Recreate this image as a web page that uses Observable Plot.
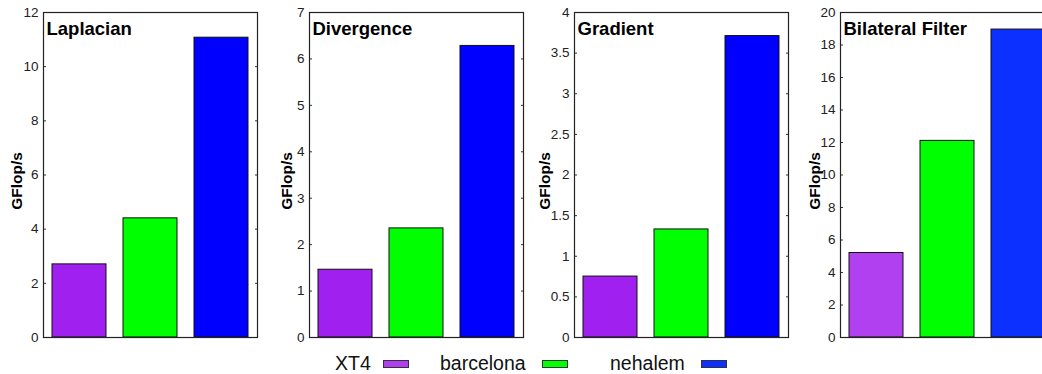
<!DOCTYPE html>
<html>
<head>
<meta charset="utf-8">
<script src="https://cdn.jsdelivr.net/npm/d3@7"></script>
<script src="https://cdn.jsdelivr.net/npm/@observablehq/plot@0.6"></script>
<style>
  html, body { margin: 0; padding: 0; background: #fff; }
  #wrap { position: relative; width: 1042px; height: 374px; overflow: hidden; background: #fff;
          font-family: "Liberation Sans", Arial, Helvetica, sans-serif; }
  .panel { position: absolute; top: 0; }
  .leg { position: absolute; font-size: 19.5px; line-height: 16px; height: 16px; color: #111; white-space: nowrap; }
  .sw { position: absolute; height: 6px; width: 24px; border: 1px solid #333; }
</style>
</head>
<body>
<div id="wrap"></div>
<script>
// ---- data ----
const panels = ["Laplacian", "Divergence", "Gradient", "Bilateral Filter"];
const machines = ["XT4", "barcelona", "nehalem"];
const xt4 = [2.7, 1.46, 0.75, 5.2];
const barcelona = [4.4, 2.35, 1.33, 12.1];
const nehalem = [11.07, 6.28, 3.71, 18.95];
const yMax = [12, 7, 4, 20];
const yTicks = [
  [0, 2, 4, 6, 8, 10, 12],
  [0, 1, 2, 3, 4, 5, 6, 7],
  [0, 0.5, 1, 1.5, 2, 2.5, 3, 3.5, 4],
  [0, 2, 4, 6, 8, 10, 12, 14, 16, 18, 20]
];
const yLabel = "GFlop/s";

// ---- style ----
const panelColors = [
  ["#a020f0", "#00ff00", "#0000ff"],
  ["#a020f0", "#00ff00", "#0000ff"],
  ["#a020f0", "#00ff00", "#0000ff"],
  ["#b040f0", "#00ff00", "#0c30ff"]
];
const legendColors = ["#b040f0", "#00ff00", "#0c30ff"];
const panelLeft = [0, 265.7, 531.3, 797];
const labelDx = [-26, -22, -29, -25];

const wrap = document.getElementById("wrap");

panels.forEach((name, i) => {
  const rows = machines.map((m, j) => ({
    machine: m,
    value: [xt4, barcelona, nehalem][j][i]
  }));
  const chart = Plot.plot({
    width: 266,
    height: 345,
    marginLeft: 43,
    marginRight: 9,
    marginTop: 12,
    marginBottom: 8,
    style: {fontFamily: '"Liberation Sans", Arial, Helvetica, sans-serif', fontSize: "13.5px", background: "white", color: "#111"},
    x: {domain: machines, paddingInner: 0.24, paddingOuter: 0.127, axis: null},
    y: {domain: [0, yMax[i]], axis: null},
    color: {domain: machines, range: panelColors[i]},
    marks: [
      Plot.barY(rows, {x: "machine", y: "value", fill: "machine", stroke: "#111", strokeWidth: 1}),
      Plot.axisY({anchor: "left", ticks: yTicks[i], tickSize: 0, tickPadding: 5, tickFormat: d => String(d), label: null, fill: "#222"}),
      Plot.axisY({anchor: "left", ticks: yTicks[i], tickSize: 3, dx: 3, tickFormat: () => "", label: null, stroke: "#333"}),
      Plot.axisY({anchor: "right", ticks: yTicks[i], tickSize: 3, dx: -3, tickFormat: () => "", label: null, stroke: "#333"}),
      Plot.frame({stroke: "#222", strokeWidth: 1.2}),
      Plot.text([name], {text: d => d, frameAnchor: "top-left", textAnchor: "start", lineAnchor: "top", dx: 3, dy: 9, fontSize: 18.5, fontWeight: "bold", fill: "#000"}),
      Plot.text([yLabel], {text: d => d, frameAnchor: "left", textAnchor: "middle", lineAnchor: "middle", rotate: -90, dx: labelDx[i], dy: 6, fontSize: 15.5, fontWeight: "bold", fill: "#000"})
    ]
  });
  chart.classList.add("panel");
  chart.style.left = panelLeft[i] + "px";
  wrap.appendChild(chart);
});

// ---- legend ----
const legTextLeft = [335, 440, 610];
const legSwLeft = [382.5, 541.5, 701];
machines.forEach((m, j) => {
  const t = document.createElement("div");
  t.className = "leg";
  t.textContent = m;
  t.style.left = legTextLeft[j] + "px";
  t.style.top = "355px";
  wrap.appendChild(t);
  const s = document.createElement("div");
  s.className = "sw";
  s.style.left = legSwLeft[j] + "px";
  s.style.top = "360px";
  s.style.background = legendColors[j];
  wrap.appendChild(s);
});
</script>
</body>
</html>
